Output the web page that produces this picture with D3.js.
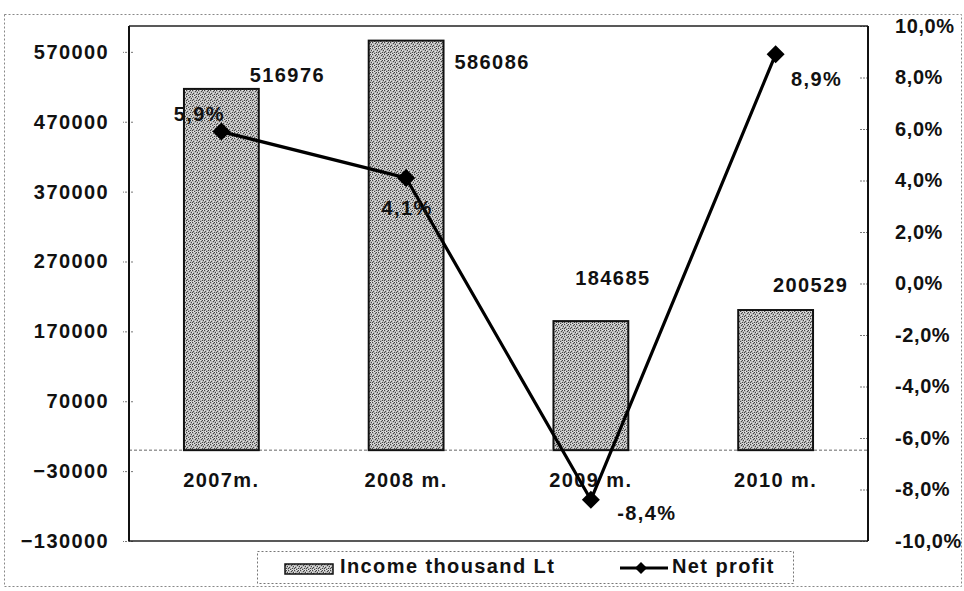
<!DOCTYPE html>
<html>
<head>
<meta charset="utf-8">
<script src="https://cdn.jsdelivr.net/npm/d3@7"></script>
<style>
  html, body { margin: 0; padding: 0; background: #fff; }
  svg { display: block; }
  text { font-family: "Liberation Sans", Arial, sans-serif; font-weight: bold; fill: #111; font-size: 20px; letter-spacing: 1.4px; }
</style>
</head>
<body>
<script>
// ---- data ----
const categories = ["2007m.", "2008 m.", "2009 m.", "2010 m."];
const income = [516976, 586086, 184685, 200529];
const netProfit = [5.9, 4.1, -8.4, 8.9];
const leftTicks = [-130000, -30000, 70000, 170000, 270000, 370000, 470000, 570000];
const rightTicks = [-10, -8, -6, -4, -2, 0, 2, 4, 6, 8, 10];
const seriesNames = ["Income thousand Lt", "Net profit"];

// ---- layout ----
const W = 964, H = 591;
const plot = { left: 129, right: 868, top: 26, bottom: 541 };
// manual label nudges (as placed in the original)
const incomeLabelShift = [[66, -12], [86, 23], [22, -41], [35, -23]];
const profitLabelShift = [[-22, -16], [1, 32], [56, 15], [41, 26]];

const loc = d3.formatLocale({ decimal: ",", thousands: " ", grouping: [3], currency: ["", ""], minus: "-" });
const fmtPct = v => loc.format(".1f")(v) + "%";
const fmtInt = d3.format("d");

const svg = d3.select("body").append("svg").attr("width", W).attr("height", H);

// stipple pattern
const defs = svg.append("defs");
const pat = defs.append("pattern").attr("id", "stip").attr("width", 6).attr("height", 6)
  .attr("patternUnits", "userSpaceOnUse");
pat.append("rect").attr("width", 6).attr("height", 6).attr("fill", "#b9b9b9");
const darkDots = [[0,0],[3,1],[1,3],[4,4],[5,2],[2,5],[4,0],[0,4]];
const lightDots = [[2,0],[5,0],[0,2],[3,3],[1,5],[4,5]];
darkDots.forEach(([x,y]) => pat.append("rect").attr("x", x).attr("y", y).attr("width", 1).attr("height", 1).attr("fill", "#444"));
lightDots.forEach(([x,y]) => pat.append("rect").attr("x", x).attr("y", y).attr("width", 1).attr("height", 1).attr("fill", "#e8e8e8"));

// outer dotted frame
svg.append("rect").attr("x", 4.5).attr("y", 14.5).attr("width", 957).attr("height", 572)
  .attr("fill", "none").attr("stroke", "#888").attr("stroke-width", 1).attr("stroke-dasharray", "2,2");

// scales
const x = d3.scaleBand().domain(categories).range([plot.left, plot.right]).paddingInner(0.595).paddingOuter(0.2975);
const yL = d3.scaleLinear().domain([-130000, 607000]).range([plot.bottom, plot.top]);
const yR = d3.scaleLinear().domain([-10, 10]).range([plot.bottom, plot.top]);

// zero line
svg.append("line").attr("x1", plot.left).attr("x2", plot.right).attr("y1", yL(0)).attr("y2", yL(0))
  .attr("stroke", "#666").attr("stroke-width", 1).attr("stroke-dasharray", "3,2");

// left axis
const gL = svg.append("g").attr("transform", `translate(${plot.left},0)`)
  .call(d3.axisLeft(yL).tickValues(leftTicks).tickFormat(fmtInt).tickSize(6).tickPadding(14));
gL.select(".domain").remove();
gL.selectAll(".tick line").attr("stroke", "#777").attr("stroke-dasharray", "2,1").attr("x2", -6).attr("x1", 4);
gL.selectAll(".tick text").style("font-size", "20px").attr("fill", "#111").attr("x", -20);

// right axis
const gR = svg.append("g").attr("transform", `translate(${plot.right},0)`)
  .call(d3.axisRight(yR).tickValues(rightTicks).tickFormat(fmtPct).tickSize(8).tickPadding(19));
gR.select(".domain").remove();
gR.selectAll(".tick line").attr("stroke", "#777").attr("stroke-dasharray", "2,1").attr("x1", -8).attr("x2", 0);
gR.selectAll(".tick text").style("font-size", "20px").style("letter-spacing", "0.6px").attr("fill", "#111");

// plot frame
svg.append("line").attr("x1", plot.left).attr("x2", plot.right).attr("y1", plot.top).attr("y2", plot.top).attr("stroke", "#222").attr("stroke-width", 1.5);
svg.append("line").attr("x1", plot.left).attr("x2", plot.right).attr("y1", plot.bottom).attr("y2", plot.bottom).attr("stroke", "#222").attr("stroke-width", 1.5);
svg.append("line").attr("x1", plot.left).attr("x2", plot.left).attr("y1", plot.top).attr("y2", plot.bottom).attr("stroke", "#111").attr("stroke-width", 2);
svg.append("line").attr("x1", plot.right).attr("x2", plot.right).attr("y1", plot.top).attr("y2", plot.bottom).attr("stroke", "#111").attr("stroke-width", 2);

// bars
svg.append("g").selectAll("rect").data(income).join("rect")
  .attr("x", (d, i) => x(categories[i]))
  .attr("width", x.bandwidth())
  .attr("y", d => yL(d))
  .attr("height", d => yL(0) - yL(d))
  .attr("fill", "url(#stip)")
  .attr("stroke", "#111").attr("stroke-width", 2);

// category labels
svg.append("g").selectAll("text").data(categories).join("text")
  .attr("x", d => x(d) + x.bandwidth() / 2)
  .attr("y", yL(0) + 32)
  .attr("text-anchor", "middle").attr("dominant-baseline", "middle")
  .text(d => d);

// income labels
svg.append("g").selectAll("text").data(income).join("text")
  .attr("x", (d, i) => x(categories[i]) + x.bandwidth() / 2 + incomeLabelShift[i][0])
  .attr("y", (d, i) => yL(d) + incomeLabelShift[i][1])
  .attr("text-anchor", "middle").attr("dominant-baseline", "middle")
  .text(d => fmtInt(d));

// line
const cx = i => x(categories[i]) + x.bandwidth() / 2;
const line = d3.line().x((d, i) => cx(i)).y(d => yR(d));
svg.append("path").datum(netProfit).attr("d", line)
  .attr("fill", "none").attr("stroke", "#000").attr("stroke-width", 3.2).attr("stroke-linejoin", "round");

const diamond = s => `M0,${-s}L${s},0L0,${s}L${-s},0Z`;
svg.append("g").selectAll("path").data(netProfit).join("path")
  .attr("transform", (d, i) => `translate(${cx(i)},${yR(d)})`)
  .attr("d", diamond(9)).attr("fill", "#000");

// profit labels
svg.append("g").selectAll("text").data(netProfit).join("text")
  .attr("x", (d, i) => cx(i) + profitLabelShift[i][0])
  .attr("y", (d, i) => yR(d) + profitLabelShift[i][1])
  .attr("text-anchor", "middle").attr("dominant-baseline", "middle")
  .text(d => fmtPct(d));

// legend
const lg = svg.append("g");
lg.append("rect").attr("x", 257.5).attr("y", 551.5).attr("width", 536).attr("height", 32)
  .attr("fill", "#fff").attr("stroke", "#777").attr("stroke-dasharray", "2,2");
lg.append("rect").attr("x", 285).attr("y", 564).attr("width", 48).attr("height", 10)
  .attr("fill", "url(#stip)").attr("stroke", "#111").attr("stroke-width", 1.5);
lg.append("text").attr("x", 340).attr("y", 568).attr("dominant-baseline", "middle").text(seriesNames[0]);
lg.append("line").attr("x1", 620).attr("x2", 668).attr("y1", 568).attr("y2", 568).attr("stroke", "#000").attr("stroke-width", 3);
lg.append("path").attr("transform", "translate(641,568)").attr("d", diamond(6)).attr("fill", "#000");
lg.append("text").attr("x", 672).attr("y", 568).attr("dominant-baseline", "middle").text(seriesNames[1]);
</script>
</body>
</html>
